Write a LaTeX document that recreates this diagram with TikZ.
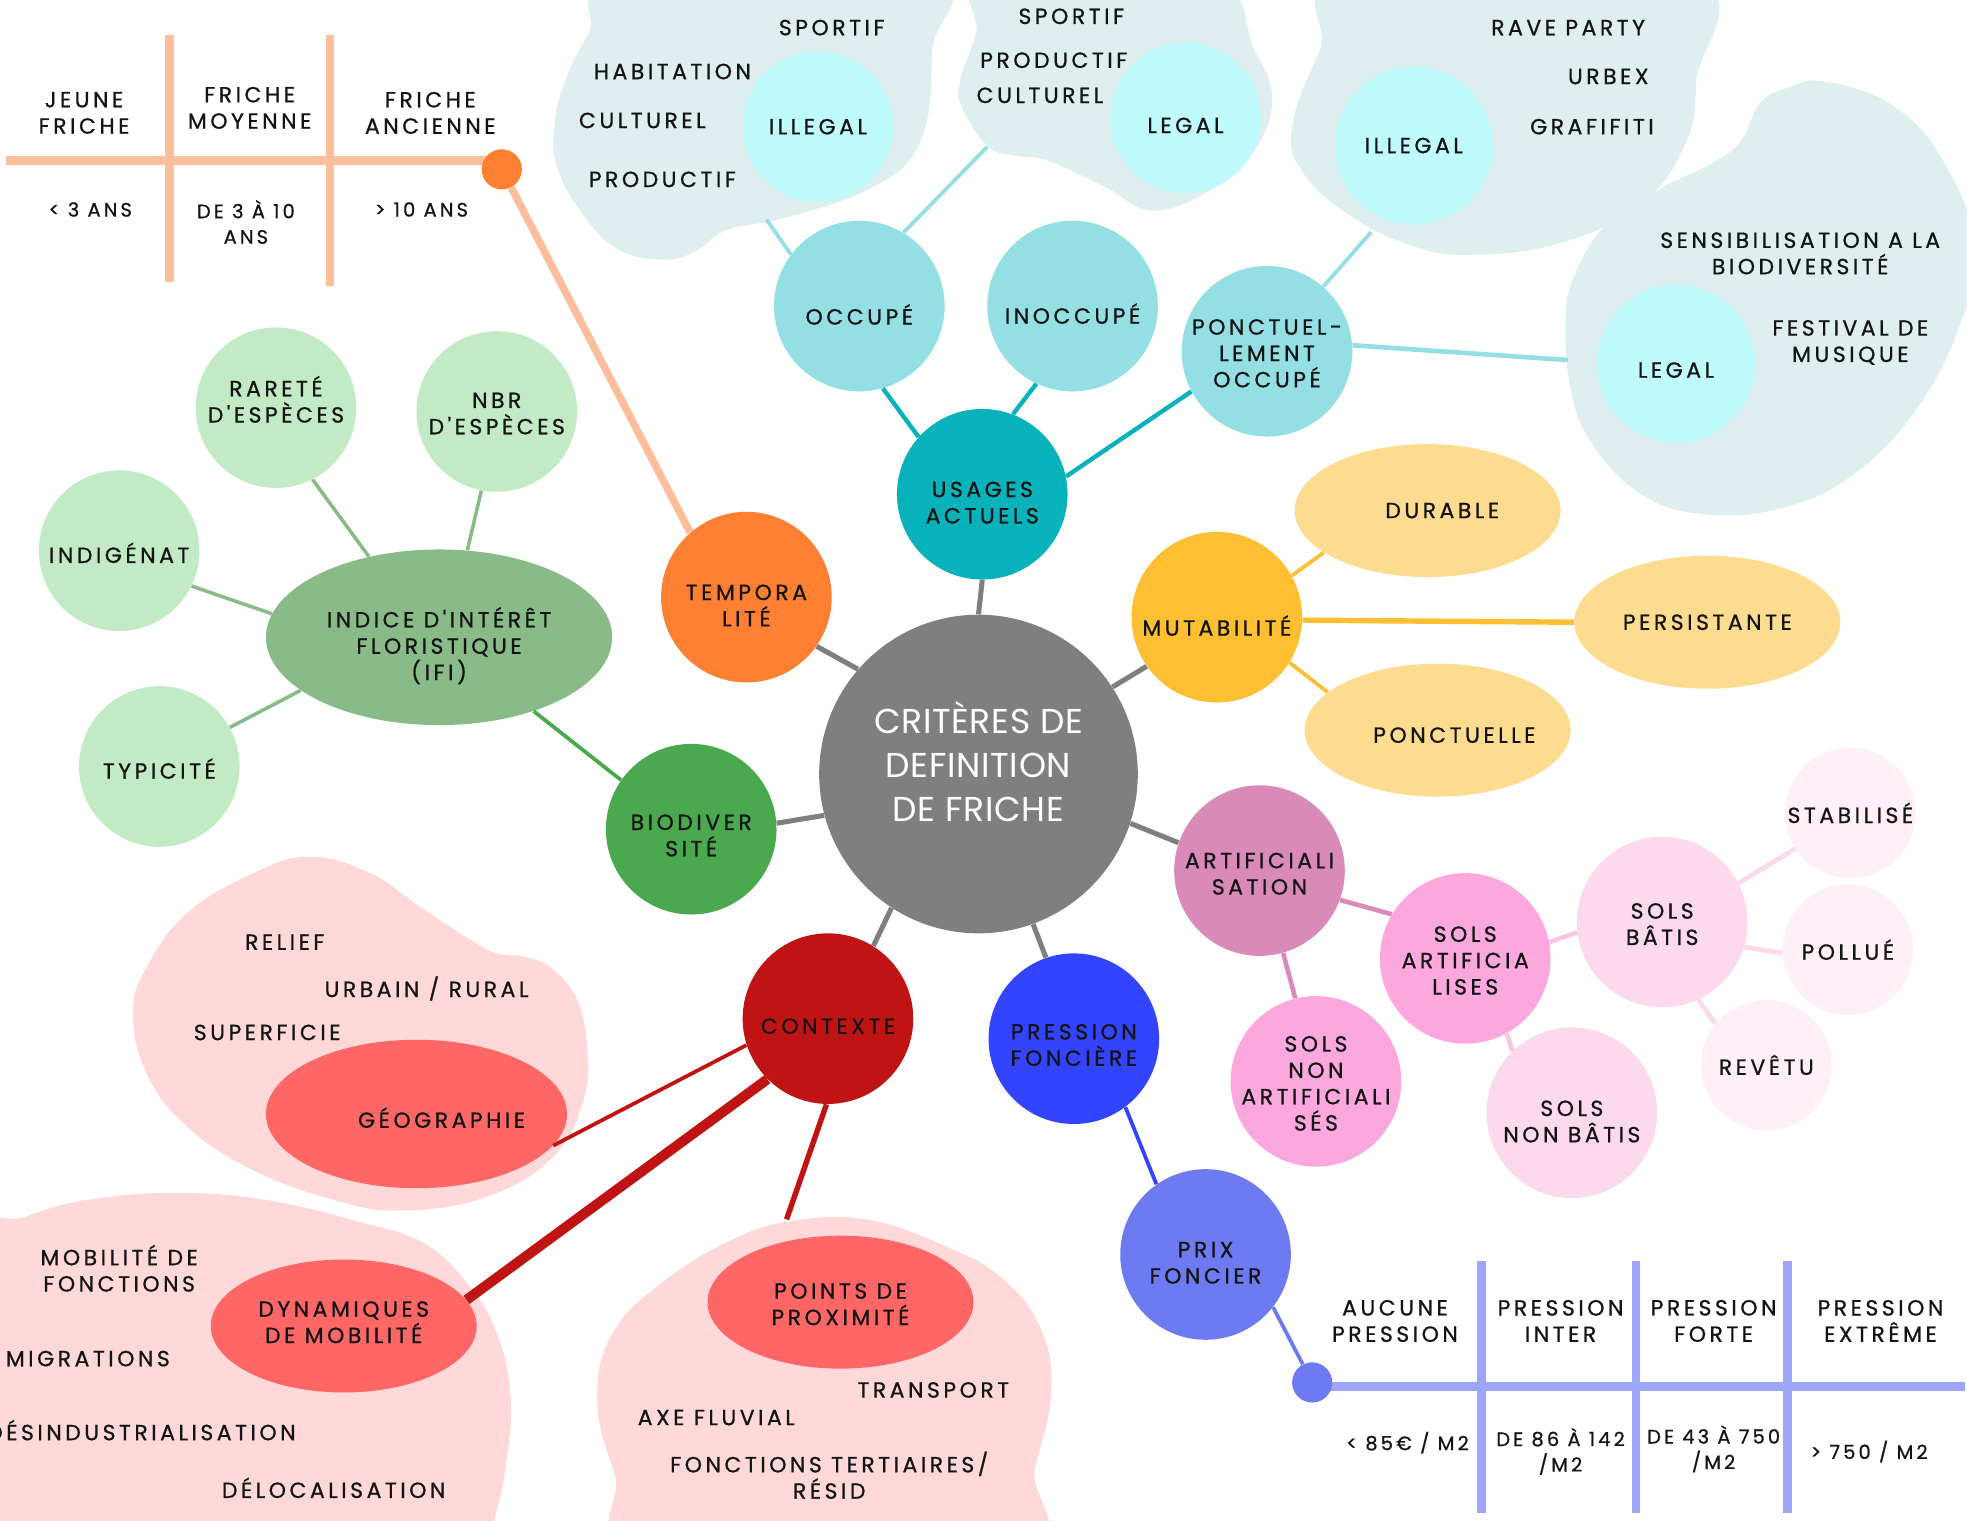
\documentclass[tikz,border=0pt]{standalone}
\usepackage{fontspec}
\usetikzlibrary{shapes.geometric}
\newfontfamily\labfont[LetterSpace=16, FakeBold=0.8]{Poppins}
\newfontfamily\titfont[LetterSpace=2]{Poppins}
\newcommand\mylab{\labfont\fontsize{10.5}{12.6}\selectfont}
\newcommand\mylabs{\labfont\fontsize{9.3}{12.2}\selectfont}
\newcommand\mytit{\titfont\fontsize{16.5}{21}\selectfont}
\definecolor{ink}{HTML}{141414}
\definecolor{cgray}{HTML}{7F7F7F}
\definecolor{corange}{HTML}{FF7F33}
\definecolor{cpeach}{HTML}{FFBE9B}
\definecolor{cteal}{HTML}{08B2BB}
\definecolor{cteal2}{HTML}{93DFE3}
\definecolor{cteal3}{HTML}{BFFAFC}
\definecolor{cblobt}{HTML}{DFEFEF}
\definecolor{cgold}{HTML}{FFBF33}
\definecolor{cyel}{HTML}{FDDC8F}
\definecolor{cmauve}{HTML}{D98AB9}
\definecolor{cpink}{HTML}{FCA8DF}
\definecolor{cpink2}{HTML}{FDD9EE}
\definecolor{cpink3}{HTML}{FFF0F8}
\definecolor{cpinkline}{HTML}{FBC3E6}
\definecolor{cblue}{HTML}{3344FF}
\definecolor{cblue2}{HTML}{6E7AF2}
\definecolor{cblue3}{HTML}{9EA6FB}
\definecolor{cred}{HTML}{C01414}
\definecolor{cred2}{HTML}{FF6666}
\definecolor{cblobp}{HTML}{FFD9D9}
\definecolor{cgreen}{HTML}{4AA84E}
\definecolor{cgreen2}{HTML}{88BB88}
\definecolor{cgreen3}{HTML}{C2EAC5}
\tikzset{
  lbl/.style={align=center, font=\mylab, text=ink, inner sep=0pt},
  lbls/.style={align=center, font=\mylabs, text=ink, inner sep=0pt},
  bub/.style={circle, inner sep=0pt, fill=#1},
  c68/.style={bub=#1, minimum size=81.6pt},
  c64/.style={bub=#1, minimum size=76.8pt},
  c63/.style={bub=#1, minimum size=75.6pt},
  c60/.style={bub=#1, minimum size=72pt},
  c52/.style={bub=#1, minimum size=62.4pt},
  dotn/.style={bub=#1, minimum size=19.2pt},
  ell/.style={ellipse, inner sep=0pt, fill=#1, minimum width=127.2pt, minimum height=63.6pt},
  con/.style={draw=#1, line width=1.8pt},
  bar/.style={draw=#1, line width=4.4pt},
  blob/.style={fill=#1},
}
\begin{document}
\begin{tikzpicture}[x=0.6pt, y=-0.6pt]
\useasboundingbox (0,0) rectangle (1568,1212);
\clip (0,0) rectangle (1568,1212);
\fill[white] (0,0) rectangle (1568,1212);

% ---------- blobs ----------
\fill[blob=cblobt] plot[smooth cycle, tension=0.7] coordinates {(500,-20) (738,-20) (743,40) (734,112) (696,149) (628,173) (580,183) (556,199) (531,207) (493,199) (464,170) (444,133) (442,100) (450,66) (469,27)};
\fill[blob=cblobt] plot[smooth cycle, tension=0.7] coordinates {(790,-20) (778,27) (765,66) (768,88) (788,117) (809,124) (835,128) (881,149) (920,168) (969,149) (1000,120) (1014,80) (1000,40) (960,-20)};
\fill[blob=cblobt] plot[smooth cycle, tension=0.7] coordinates {(1080,-20) (1052,40) (1030,101) (1039,138) (1078,173) (1129,197) (1176,203) (1243,194) (1305,165) (1341,120) (1352,66) (1345,-20)};
\fill[blob=cblobt] plot[smooth cycle, tension=0.7] coordinates {(1455,65) (1425,70) (1403,82) (1388,112) (1365,130) (1326,149) (1295,170) (1274,186) (1255,220) (1248,253) (1252,310) (1270,355) (1310,395) (1360,410) (1420,405) (1475,380) (1525,330) (1560,265) (1575,200) (1550,130) (1510,85)};
\fill[blob=cblobp] plot[smooth cycle, tension=0.7] coordinates {(247,683) (295,696) (335,723) (375,749) (396,760) (420,763) (441,773) (460,797) (468,834) (465,877) (441,922) (388,954) (321,965) (268,957) (202,933) (149,898) (117,856) (106,808) (117,771) (149,728) (202,696)};
\fill[blob=cblobp] plot[smooth cycle, tension=0.7] coordinates {(-40,1000) (20,970) (80,955) (151,951) (220,958) (290,975) (336,990) (370,1020) (395,1060) (407,1113) (403,1170) (394,1212) (385,1250) (-40,1250)};
\fill[blob=cblobp] plot[smooth cycle, tension=0.7] coordinates {(520,1240) (490,1175) (476,1113) (490,1060) (531,1020) (580,990) (627,974) (690,972) (755,994) (800,1020) (830,1060) (838,1110) (825,1170) (806,1240)};

% ---------- timelines ----------
\coordinate (tl0) at (5,128);
\coordinate (tl1) at (400,128);
\coordinate (tv1a) at (135,28); \coordinate (tv1b) at (135,225);
\coordinate (tv2a) at (263,28); \coordinate (tv2b) at (263,228);
\draw[bar=cpeach] (tl0) -- (tl1);
\draw[bar=cpeach, line width=4.2pt] (tv1a) -- (tv1b);
\draw[bar=cpeach, line width=4.2pt] (tv2a) -- (tv2b);
\coordinate (pl0) at (1046,1105);
\coordinate (pl1) at (1566,1105);
\coordinate (pv1a) at (1181,1005); \coordinate (pv1b) at (1181,1206);
\coordinate (pv2a) at (1304,1005); \coordinate (pv2b) at (1304,1206);
\coordinate (pv3a) at (1425,1005); \coordinate (pv3b) at (1425,1206);
\draw[bar=cblue3] (pl0) -- (pl1);
\draw[bar=cblue3, line width=4pt] (pv1a) -- (pv1b);
\draw[bar=cblue3, line width=4pt] (pv2a) -- (pv2b);
\draw[bar=cblue3, line width=4pt] (pv3a) -- (pv3b);

% ---------- nodes ----------
\node[bub=cgray, minimum size=152.4pt, label={[align=center, font=\mytit, text=white, yshift=6pt]center:CRITÈRES DE\\DEFINITION\\DE FRICHE}] (ctr) at (780,617) {};

\node[c68=corange, label={[lbl, yshift=-4pt]center:TEMPORA\\LITÉ}] (tempo) at (595,476) {};
\node[dotn=corange] (tdot) at (400,135) {};

\node[c68=cteal, label={[lbl, yshift=-4pt]center:USAGES\\ACTUELS}] (usa) at (783,394) {};
\node[c68=cteal2, label={[lbl, yshift=-4pt]center:OCCUPÉ}] (occ) at (685,244) {};
\node[c68=cteal2, label={[lbl, yshift=-3.6pt]center:INOCCUPÉ}] (inocc) at (855,244) {};
\node[c68=cteal2, label={[lbl, yshift=-1pt]center:PONCTUEL-\\LEMENT\\OCCUPÉ}] (ponct) at (1010,280) {};
\node[c60=cteal3, label={[lbl]center:ILLEGAL}] (ill1) at (652,101) {};
\node[c60=cteal3, label={[lbl, yshift=-3.6pt]center:LEGAL}] (leg1) at (945,94) {};
\node[c63=cteal3, label={[lbl]center:ILLEGAL}] (ill2) at (1127,116) {};
\node[c63=cteal3, label={[lbl, yshift=-3pt]center:LEGAL}] (leg2) at (1336,290) {};

\node[c68=cgold, label={[lbl, yshift=-4pt]center:MUTABILITÉ}] (mut) at (970,492) {};
\node[ell=cyel, label={[lbl, xshift=7pt]center:DURABLE}] (dur) at (1138,407) {};
\node[ell=cyel, label={[lbl]center:PERSISTANTE}] (pers) at (1361,496) {};
\node[ell=cyel, label={[lbl, xshift=8pt, yshift=-2.4pt]center:PONCTUELLE}] (ponc) at (1146,582) {};

\node[c68=cmauve, label={[lbl, yshift=-1.5pt]center:ARTIFICIALI\\SATION}] (art) at (1004,694) {};
\node[c68=cpink, label={[lbl, yshift=-1pt]center:SOLS\\ARTIFICIA\\LISES}] (sart) at (1168,764) {};
\node[c68=cpink, label={[lbl, yshift=-1pt]center:SOLS\\NON\\ARTIFICIALI\\SÉS}] (snart) at (1049,862) {};
\node[c68=cpink2, label={[lbl, yshift=-1pt]center:SOLS\\BÂTIS}] (sbat) at (1325,735) {};
\node[c68=cpink2, label={[lbl, yshift=-4.2pt]center:SOLS\\NON BÂTIS}] (snbat) at (1253,887) {};
\node[c52=cpink3, label={[lbl]center:STABILISÉ}] (stab) at (1475,648) {};
\node[c52=cpink3, label={[lbl]center:POLLUÉ}] (poll) at (1473,757) {};
\node[c52=cpink3, label={[lbl]center:REVÊTU}] (rev) at (1408,849) {};

\node[c68=cblue, label={[lbl, yshift=-3pt]center:PRESSION\\FONCIÈRE}] (pres) at (856,828) {};
\node[c68=cblue2, label={[lbl, yshift=-4pt]center:PRIX\\FONCIER}] (prix) at (961,1000) {};
\node[dotn=cblue2] (pdot) at (1046,1102) {};

\node[c68=cred, label={[lbl, yshift=-3.6pt]center:CONTEXTE}] (ctx) at (660,812) {};
\node[ell=cred2, minimum width=144pt, minimum height=71pt] (geo) at (332,888) {};
\node[lbl] (geot) at (352,891) {GÉOGRAPHIE};
\node[ell=cred2, label={[lbl, yshift=1.8pt]center:DYNAMIQUES\\DE MOBILITÉ}] (dyn) at (274,1057) {};
\node[ell=cred2, label={[lbl, yshift=-1pt]center:POINTS DE\\PROXIMITÉ}] (prox) at (670,1038) {};

\node[c68=cgreen, label={[lbl, yshift=-3pt]center:BIODIVER\\SITÉ}] (bio) at (551,661) {};
\node[ell=cgreen2, minimum width=165.6pt, minimum height=84pt, label={[lbl, yshift=-4pt]center:INDICE D'INTÉRÊT\\FLORISTIQUE\\(IFI)}] (ifi) at (350,508) {};
\node[c64=cgreen3, label={[lbl, yshift=4pt]center:RARETÉ\\D'ESPÈCES}] (rar) at (220,325) {};
\node[c64=cgreen3, label={[lbl, yshift=-1pt]center:NBR\\D'ESPÈCES}] (nbr) at (396,328) {};
\node[c64=cgreen3, label={[lbl, yshift=-1pt]center:INDIGÉNAT}] (ind) at (95,439) {};
\node[c64=cgreen3, label={[lbl, yshift=-1pt]center:TYPICITÉ}] (typ) at (127,611) {};

% ---------- blob / table texts ----------
\node[lbl] (a1) at (67,90) {JEUNE\\FRICHE};
\node[lbl] (a2) at (199,86) {FRICHE\\MOYENNE};
\node[lbl] (a3) at (343,90) {FRICHE\\ANCIENNE};
\node[lbls] (a4) at (72,167) {< 3 ANS};
\node[lbls] (a5) at (196,177) {DE 3 À 10\\ANS};
\node[lbls] (a6) at (336,167) {> 10 ANS};

\node[lbl] (u1) at (663,22) {SPORTIF};
\node[lbl] (u2) at (536,57) {HABITATION};
\node[lbl] (u3) at (512,96) {CULTUREL};
\node[lbl] (u4) at (528,143) {PRODUCTIF};
\node[lbl] (u5) at (854,13) {SPORTIF};
\node[lbl] (u6) at (840,48) {PRODUCTIF};
\node[lbl] (u7) at (829,76) {CULTUREL};
\node[lbl] (u8) at (1250,22) {RAVE PARTY};
\node[lbl] (u9) at (1282,61) {URBEX};
\node[lbl] (u10) at (1269,101) {GRAFIFITI};
\node[lbl] (u11) at (1435,202) {SENSIBILISATION A LA\\BIODIVERSITÉ};
\node[lbl] (u12) at (1475,273) {FESTIVAL DE\\MUSIQUE};

\node[lbl] (g1) at (227,751) {RELIEF};
\node[lbl] (g2) at (340,788) {URBAIN / RURAL};
\node[lbl] (g3) at (213,823) {SUPERFICIE};
\node[lbl] (d1) at (95,1011) {MOBILITÉ DE\\FONCTIONS};
\node[lbl] (d2) at (70,1083) {MIGRATIONS};
\node[lbl, anchor=east] (d3) at (236,1140) {DÉSINDUSTRIALISATION};
\node[lbl] (d4) at (266,1186) {DÉLOCALISATION};
\node[lbl] (p1) at (744,1108) {TRANSPORT};
\node[lbl] (p2) at (571,1130) {AXE FLUVIAL};
\node[lbl] (p3) at (661,1176) {FONCTIONS TERTIAIRES/\\RÉSID};

\node[lbl] (f1) at (1112,1053) {AUCUNE\\PRESSION};
\node[lbl] (f2) at (1244,1053) {PRESSION\\INTER};
\node[lbl] (f3) at (1366,1053) {PRESSION\\FORTE};
\node[lbl] (f4) at (1499,1053) {PRESSION\\EXTRÊME};
\node[lbls] (f5) at (1122,1150) {< 85€ / M2};
\node[lbls] (f6) at (1244,1157) {DE 86 À 142\\/M2};
\node[lbls] (f7) at (1366,1155) {DE 43 À 750\\/M2};
\node[lbls] (f8) at (1490,1157) {> 750 / M2};

% ---------- connectors ----------
\coordinate (b1a) at (611,175);
\coordinate (b2a) at (787,117);
\coordinate (b3a) at (1093,185);
\coordinate (b4a) at (1250,287);
\coordinate (bpa) at (627,972);

\draw[con=cgray, line width=2.4pt] (ctr.139) -- (tempo.-35);
\draw[con=cgray, line width=2.4pt] (ctr.90) -- (usa.-90);
\draw[con=cgray, line width=2.4pt] (ctr.33) -- (mut.-145);
\draw[con=cgray, line width=2.4pt] (ctr.-18.6) -- (art.161.8);
\draw[con=cgray, line width=2.4pt] (ctr.-70.7) -- (pres.109.5);
\draw[con=cgray, line width=2.4pt] (ctr.-123) -- (ctx.58);
\draw[con=cgray, line width=2.4pt] (ctr.195.4) -- (bio.4);

\draw[con=cpeach, line width=3.6pt] (tempo.131.4) -- (tdot);

\draw[con=cteal, line width=2.1pt] (usa.138) -- (occ.-74);
\draw[con=cteal, line width=2.1pt] (usa.69) -- (inocc.-115);
\draw[con=cteal, line width=2.1pt] (usa.12) -- (ponct.-152.6);
\draw[con=cteal2] (occ.143) -- (b1a);
\draw[con=cteal2] (occ.59) -- (b2a);
\draw[con=cteal2] (ponct.49) -- (b3a);
\draw[con=cteal2, line width=2.2pt] (ponct.4) -- (b4a);

\draw[con=cgold] (mut.29.5) -- (dur.-158);
\draw[con=cgold, line width=2.6pt] (mut.-2.5) -- (pers.180);
\draw[con=cgold] (mut.-32) -- (ponc.161.4);

\draw[con=cmauve, line width=2.2pt] (art.-20) -- (sart.149.6);
\draw[con=cmauve, line width=2.2pt] (art.-74.7) -- (snart.104.9);
\draw[con=cpinkline, line width=2.2pt] (sart.11.8) -- (sbat.187.7);
\draw[con=cpinkline, line width=2.2pt] (sart.-61) -- (snbat.134.3);
\draw[con=cpink2, line width=2.2pt] (sbat.27) -- (stab.-147);
\draw[con=cpink2, line width=2.2pt] (sbat.-17) -- (poll.183);
\draw[con=cpink2, line width=2.2pt] (sbat.-65.7) -- (rev.141);

\draw[con=cblue] (pres.-53.5) -- (prix.125);
\draw[con=cblue2] (prix.-38.5) -- (pdot);

\draw[con=cred] (ctx.198) -- (geo.-13.2);
\draw[con=cred, line width=4.8pt] (ctx.-135) -- (dyn.12);
\draw[con=cred, line width=2.6pt] (ctx.-91) -- (bpa);

\draw[con=cgreen] (bio.145) -- (ifi.-38);
\draw[con=cgreen2, line width=1.7pt] (rar.-63.8) -- (ifi.131);
\draw[con=cgreen2, line width=1.7pt] (nbr.-101.5) -- (ifi.72);
\draw[con=cgreen2, line width=1.7pt] (ind.-26) -- (ifi.172);
\draw[con=cgreen2, line width=1.7pt] (typ.29) -- (ifi.201);
\end{tikzpicture}
\end{document}
